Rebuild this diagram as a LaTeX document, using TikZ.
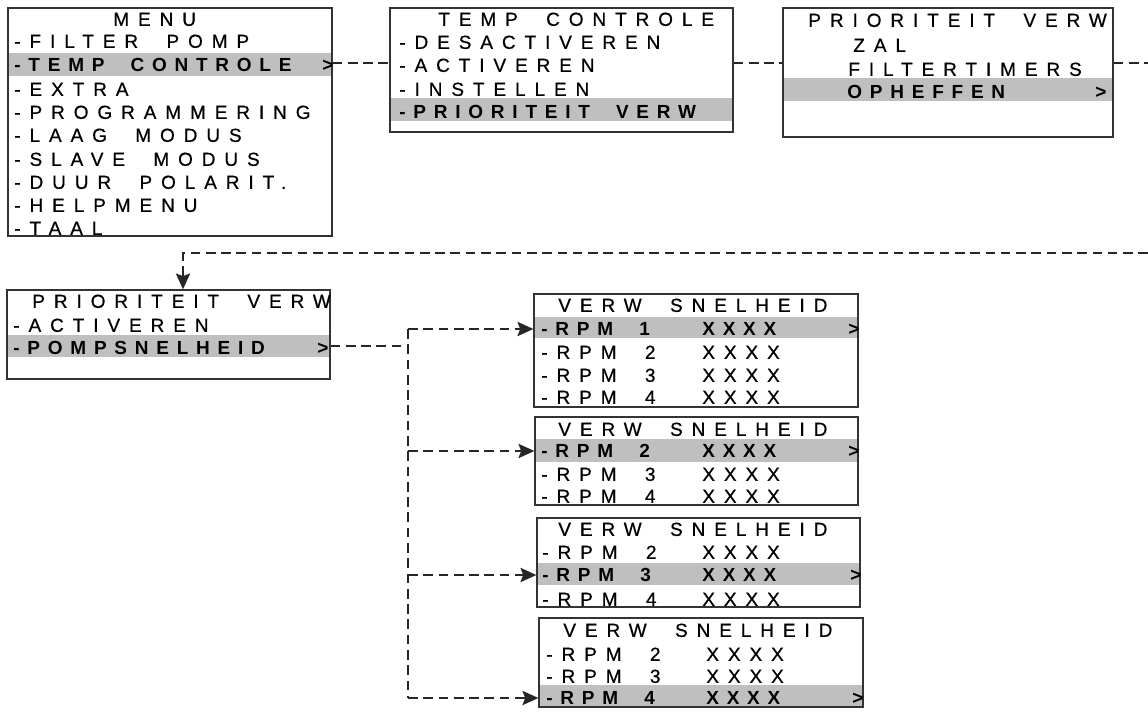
\documentclass[tikz,border=0pt]{standalone}
\usepackage{fontspec}
\setmainfont{Liberation Sans}[LetterSpace=47,WordSpace=2,UprightFeatures={FakeBold=0.6},BoldFeatures={LetterSpace=41}]
\usetikzlibrary{arrows.meta,fit}

\begin{document}
\begin{tikzpicture}[x=0.02cm,y=-0.02cm,
  scr/.style={draw=black!80,line width=0.7pt,inner sep=0pt},
  row/.style={anchor=west,inner sep=0pt,text height=7.8pt,text depth=0pt,font=\fontsize{10.8}{12}\selectfont},
  cur/.style={row,font=\fontsize{10.8}{12}\selectfont\bfseries},
  bar/.style={fill=black!25},
  link/.style={draw=black!85,line width=1.5pt,dash pattern=on 5.5pt off 3.2pt},
  go/.style={link,-{Stealth[length=9pt,width=8pt,inset=1.5pt]}}]
\useasboundingbox (0,0) rectangle (1148,713);

\fill[bar] (8,53) rectangle (332,76);
\node[scr,fit={(8,8) (332,236)}] (menu) {};
\node[row] (menu-t) at (113,19) {MENU};
\node[row] (menu-1) at (14,41) {-FILTER POMP};
\node[cur] (menu-2) at (14,65) {-TEMP CONTROLE}; \node[cur] (menu-gt) at (322,65) {>};
\node[row] (menu-3) at (14,89) {-EXTRA};
\node[row] (menu-4) at (14,112) {-PROGRAMMERING};
\node[row] (menu-5) at (14,135) {-LAAG MODUS};
\node[row] (menu-6) at (14,159) {-SLAVE MODUS};
\node[row] (menu-7) at (14,182) {-DUUR POLARIT.};
\node[row] (menu-8) at (14,205) {-HELPMENU};
\node[row] (menu-9) at (14,228) {-TAAL};

\fill[bar] (390,98) rectangle (733,121);
\node[scr,fit={(390,8) (733,132)}] (temp) {};
\node[row] (temp-t) at (438,19) {TEMP CONTROLE};
\node[row] (temp-1) at (399,42) {-DESACTIVEREN};
\node[row] (temp-2) at (399,65) {-ACTIVEREN};
\node[row] (temp-3) at (399,89) {-INSTELLEN};
\node[cur] (temp-4) at (399,112) {-PRIORITEIT VERW};

\fill[bar] (783,78) rectangle (1113,101);
\node[scr,fit={(783,8) (1113,137)}] (prio) {};
\node[row] (prio-t) at (808,20) {PRIORITEIT VERW};
\node[row] (prio-1) at (853,45) {ZAL};
\node[row] (prio-2) at (848,69) {FILTERTIMERS};
\node[cur] (prio-3) at (847,92) {OPHEFFEN}; \node[cur] (prio-gt) at (1095,92) {>};

\fill[bar] (7,335) rectangle (330,357);
\node[scr,fit={(7,290) (330,379)}] (pomp) {};
\node[row] (pomp-t) at (32,301) {PRIORITEIT VERW};
\node[row] (pomp-1) at (13,325) {-ACTIVEREN};
\node[cur] (pomp-2) at (13,348) {-POMPSNELHEID}; \node[cur] (pomp-gt) at (317,348) {>};

\fill[bar] (534,317) rectangle (858,338);
\node[scr,fit={(534,294) (858,407)}] (rpmA) {};
\node[row] (rpmA-t) at (558,305) {VERW SNELHEID};
\node[cur] (rpmA-1) at (541,329) {-RPM 1}; \node[cur] (rpmA-1x) at (702,329) {XXXX}; \node[cur] (rpmA-gt) at (848,329) {>};
\node[row] (rpmA-2) at (541,352) {-RPM 2}; \node[row] (rpmA-2x) at (702,352) {XXXX};
\node[row] (rpmA-3) at (541,375) {-RPM 3}; \node[row] (rpmA-3x) at (702,375) {XXXX};
\node[row] (rpmA-4) at (541,397) {-RPM 4}; \node[row] (rpmA-4x) at (702,397) {XXXX};

\fill[bar] (535,439) rectangle (858,462);
\node[scr,fit={(535,417) (858,505)}] (rpmB) {};
\node[row] (rpmB-t) at (558,429) {VERW SNELHEID};
\node[cur] (rpmB-2) at (541,451) {-RPM 2}; \node[cur] (rpmB-2x) at (702,451) {XXXX}; \node[cur] (rpmB-gt) at (848,451) {>};
\node[row] (rpmB-3) at (541,474) {-RPM 3}; \node[row] (rpmB-3x) at (702,474) {XXXX};
\node[row] (rpmB-4) at (541,496) {-RPM 4}; \node[row] (rpmB-4x) at (702,496) {XXXX};

\fill[bar] (537,563) rectangle (860,585);
\node[scr,fit={(537,518) (860,607)}] (rpmC) {};
\node[row] (rpmC-t) at (558,529) {VERW SNELHEID};
\node[row] (rpmC-2) at (542,552) {-RPM 2}; \node[row] (rpmC-2x) at (702,552) {XXXX};
\node[cur] (rpmC-3) at (542,575) {-RPM 3}; \node[cur] (rpmC-3x) at (702,575) {XXXX}; \node[cur] (rpmC-gt) at (850,575) {>};
\node[row] (rpmC-4) at (542,599) {-RPM 4}; \node[row] (rpmC-4x) at (702,599) {XXXX};

\fill[bar] (539,685) rectangle (863,707);
\node[scr,fit={(539,618) (863,707)}] (rpmD) {};
\node[row] (rpmD-t) at (563,630) {VERW SNELHEID};
\node[row] (rpmD-2) at (546,654) {-RPM 2}; \node[row] (rpmD-2x) at (706,654) {XXXX};
\node[row] (rpmD-3) at (546,676) {-RPM 3}; \node[row] (rpmD-3x) at (706,676) {XXXX};
\node[cur] (rpmD-4) at (546,698) {-RPM 4}; \node[cur] (rpmD-4x) at (706,698) {XXXX}; \node[cur] (rpmD-gt) at (852,698) {>};

\coordinate (edge-a) at (1148,63); \coordinate (edge-b) at (1148,253);
\coordinate (drop) at (183,253); \coordinate (split) at (408,346);
\draw[link] (menu.east |- edge-a) -- (temp.west |- edge-a);
\draw[link] (temp.east |- edge-a) -- (prio.west |- edge-a);
\draw[link] (prio.east |- edge-a) -- (edge-a);
\draw[go] (edge-b) -- (drop) -- (drop |- pomp.north);
\draw[link] (pomp.east |- split) -- (split);
\draw[link] (split |- rpmA-1) -- (split |- rpmD-4);
\draw[go] (split |- rpmA-1) -- (rpmA.west |- rpmA-1);
\draw[go] (split |- rpmB-2) -- (rpmB.west |- rpmB-2);
\draw[go] (split |- rpmC-3) -- (rpmC.west |- rpmC-3);
\draw[go] (split |- rpmD-4) -- (rpmD.west |- rpmD-4);
\end{tikzpicture}
\end{document}
